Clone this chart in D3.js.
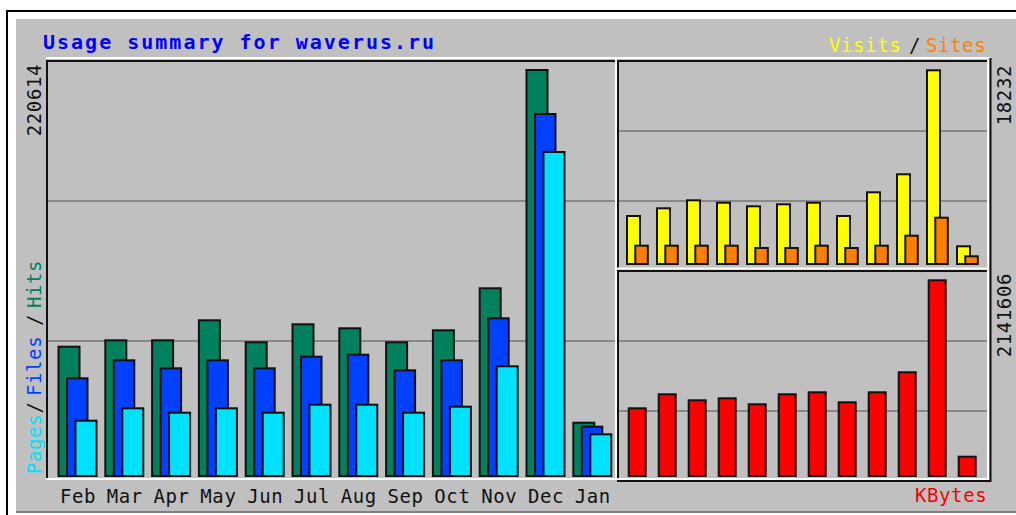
<!DOCTYPE html>
<html><head><meta charset="utf-8">
<script src="https://cdn.jsdelivr.net/npm/d3@7"></script>
<style>html,body{margin:0;padding:0;background:#fff;}svg{display:block;}</style>
</head><body>
<script>
const months = ["Feb","Mar","Apr","May","Jun","Jul","Aug","Sep","Oct","Nov","Dec","Jan"];
const hits   = [70260,73740,73740,84610,72650,82430,80260,72650,79170,102000,220614,28960];
const files  = [53090,62870,58520,62870,58520,64830,65910,57440,62870,85700,196700,26790];
const pages  = [30050,36790,34400,36790,34400,38740,38740,34400,37660,59610,176060,22660];
const visits = [4518,5243,5996,5770,5431,5620,5770,4518,6749,8443,18232,1666];
const sites  = [1723,1723,1723,1723,1506,1506,1723,1506,1723,2664,4358,725];
const kbytes = [740800,894000,828400,850300,784600,894000,916000,806500,916000,1134800,2141606,211200];
const maxLabels = ["220614","18232","2141606"];
const title = "Usage summary for waverus.ru";

const W = 1016, H = 515;
const svg = d3.select("body").append("svg").attr("width", W).attr("height", H);
const mono = "'DejaVu Sans Mono', monospace";

// outer frame
svg.append("rect").attr("x",0).attr("y",0).attr("width",W).attr("height",H).attr("fill","#fff");
svg.append("rect").attr("x",16).attr("y",19).attr("width",W-16).attr("height",493).attr("fill","#c0c0c0");
svg.append("line").attr("x1",7).attr("x2",W).attr("y1",11).attr("y2",11).attr("stroke","#000").attr("stroke-width",2);
svg.append("line").attr("x1",7).attr("x2",7).attr("y1",10).attr("y2",H).attr("stroke","#000").attr("stroke-width",2);
svg.append("line").attr("x1",16).attr("x2",W).attr("y1",512).attr("y2",512).attr("stroke","#808080").attr("stroke-width",2);

// scales
const xMain = d3.scaleBand().domain(months).range([57.5, 57.5 + 12*46.8]).padding(0);
const xRight = d3.scaleBand().domain(months).range([626, 626 + 12*30]).padding(0);
const yMain = d3.scaleLinear().domain([0, 220614]).range([476, 70]);
const yVis = d3.scaleLinear().domain([0, 18232]).range([264, 70.3]);
const yKB = d3.scaleLinear().domain([0, 2141606]).range([476, 280.3]);

// gridlines (panel thirds)
function grid(x1, x2, ys) {
  ys.forEach(y => svg.append("line").attr("x1",x1).attr("x2",x2).attr("y1",y).attr("y2",y)
    .attr("stroke","#888").attr("stroke-width",2));
}
grid(48, 615, [201, 341]);
grid(619, 987, [131, 201]);
grid(619, 987, [341, 411]);

// panel borders
function hl(x1,x2,y,c){svg.append("line").attr("x1",x1).attr("x2",x2).attr("y1",y).attr("y2",y).attr("stroke",c).attr("stroke-width",2);}
function vl(x,y1,y2,c){svg.append("line").attr("x1",x).attr("x2",x).attr("y1",y1).attr("y2",y2).attr("stroke",c).attr("stroke-width",2);}
hl(46, 990, 58, "#fff");
// left panel
hl(46, 616, 61, "#111"); vl(47, 60, 480, "#111"); vl(616, 57, 480, "#fff"); hl(46, 617, 479, "#fff");
// right top panel
hl(617, 989, 61, "#111"); vl(618, 60, 268, "#111"); hl(617, 989, 268.5, "#fff"); vl(988, 60, 269, "#fff");
// right bottom panel
hl(617, 989, 271, "#111"); vl(618, 270, 480, "#111"); hl(617, 989, 479, "#fff"); vl(988, 270, 480, "#fff");
vl(990.5, 58, 482, "#111"); hl(617, 991, 481, "#111");

// bars
function bars(data, xs, off, w, ys, color) {
  svg.append("g").selectAll("rect").data(data).join("rect")
    .attr("x", (d,i) => xs(months[i]) + off + 1)
    .attr("width", w - 2)
    .attr("y", d => ys(d))
    .attr("height", d => ys(0) - ys(d))
    .attr("fill", color).attr("stroke", "#111").attr("stroke-width", 2);
}
bars(hits, xMain, 0, 23, yMain, "#00805c");
bars(files, xMain, 8.5, 22.5, yMain, "#0040ff");
bars(pages, xMain, 17, 23, yMain, "#00e0ff");
bars(visits, xRight, 0, 15, yVis, "#ffff00");
bars(sites, xRight, 8.3, 14.5, yVis, "#ff8000");
bars(kbytes, xRight, 1.7, 19, yKB, "#ff0000");

// month labels
svg.append("g").selectAll("text").data(months).join("text")
  .attr("x", d => xMain(d) + 20.5).attr("y", 503)
  .attr("text-anchor","middle").attr("font-family",mono).attr("font-size",19)
  .attr("letter-spacing",0.6).attr("fill","#111").text(d => d);

// title
svg.append("text").attr("x",43).attr("y",48.5).attr("font-family",mono).attr("font-weight","bold")
  .attr("font-size",20).attr("letter-spacing",2).attr("fill","#0000ff").text(title);

// Visits / Sites legend
function t(x,y,s,c){return svg.append("text").attr("x",x).attr("y",y).attr("font-family",mono)
  .attr("font-size",19).attr("letter-spacing",0.6).attr("fill",c).text(s);}
t(829, 52, "Visits", "#ffff00");
t(909, 52, "/", "#111");
t(926, 52, "Sites", "#ff8000");
t(915, 502, "KBytes", "#ff0000");

// rotated labels
function rt(x,y,s,c,anchor){svg.append("text").attr("transform",`translate(${x},${y}) rotate(-90)`)
  .attr("text-anchor",anchor||"start").attr("font-family",mono).attr("font-size",19)
  .attr("letter-spacing",0.6).attr("fill",c).text(s);}
rt(41, 474, "Pages", "#00e0ff");
rt(41, 413.5, "/", "#111");
rt(41, 396, "Files", "#0040ff");
rt(41, 326, "/", "#111");
rt(41, 308, "Hits", "#00805c");
rt(41, 64, maxLabels[0], "#111", "end");
rt(1011, 65, maxLabels[1], "#111", "end");
rt(1011, 273, maxLabels[2], "#111", "end");
</script>
</body></html>
